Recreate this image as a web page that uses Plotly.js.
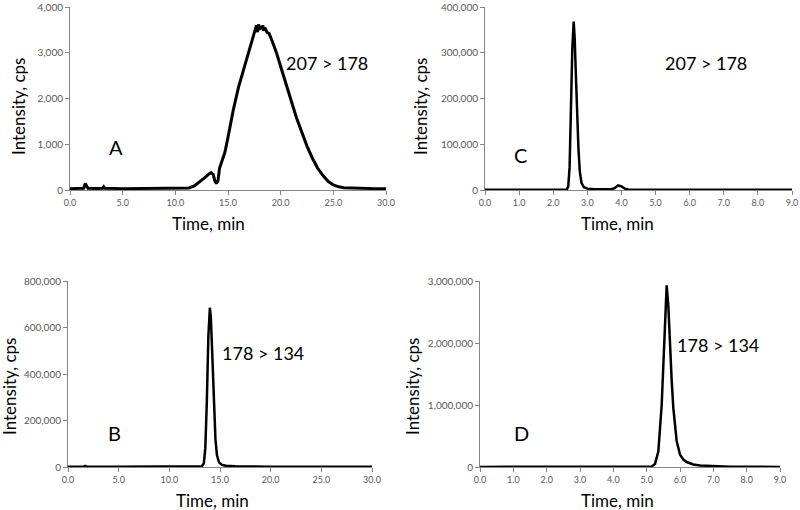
<!DOCTYPE html>
<html>
<head>
<meta charset="utf-8">
<script src="https://cdn.plot.ly/plotly-3.0.1.min.js"></script>
<style>html,body{margin:0;padding:0;background:#fff;}#chart{width:800px;height:510px;}</style>
</head>
<body>
<div id="chart"></div>
<script>
// Panel A: 207 > 178, 0-30 min
const timeA = [0,0.5,1.0,1.3,1.45,1.55,1.7,2.5,3.1,3.2,3.3,5,7,9,10.5,11.3,11.8,12.3,12.8,13.2,13.4,13.6,13.75,13.9,14.05,14.2,14.4,14.7,15.0,15.5,16.0,16.5,17.0,17.4,17.6,17.7,17.8,17.9,18.0,18.1,18.2,18.3,18.4,18.5,18.7,18.9,19.2,19.6,20.0,20.5,21.0,21.5,22.0,22.5,23.0,23.5,24.0,24.5,25.0,25.5,26.0,27,28,29,30];
const intensityA = [30,35,30,40,140,110,40,35,40,70,40,30,30,30,35,45,90,170,270,350,380,340,200,140,200,480,600,820,1150,1750,2250,2650,3050,3350,3500,3600,3450,3620,3500,3580,3520,3600,3480,3550,3450,3420,3250,3000,2700,2300,1950,1580,1250,960,700,480,320,190,110,70,50,40,35,30,30];

// Panel C: 207 > 178, 0-9 min
const timeC = [0,1,2,2.40,2.44,2.48,2.52,2.56,2.60,2.63,2.66,2.70,2.74,2.78,2.83,2.9,3.0,3.2,3.5,3.7,3.8,3.9,4.0,4.1,4.2,4.5,5,6,7,8,9];
const intensityC = [500,500,500,1000,8000,50000,180000,310000,368000,330000,260000,170000,90000,40000,15000,6000,3000,1800,1200,1500,4000,10000,8000,3000,1200,700,500,500,500,500,500];

// Panel B: 178 > 134, 0-30 min
const timeB = [0,1.5,1.7,1.9,5,10,12.8,13.2,13.4,13.55,13.7,13.85,14.0,14.1,14.25,14.4,14.55,14.7,14.9,15.2,15.6,16.5,18,20,25,30];
const intensityB = [1000,1000,5000,1000,1000,1000,1200,3000,15000,80000,280000,560000,685000,640000,470000,270000,120000,50000,20000,9000,5000,3000,2000,1000,1000,1000];

// Panel D: 178 > 134, 0-9 min
const timeD = [0,2,4,5.0,5.15,5.25,5.35,5.45,5.5,5.55,5.60,5.65,5.70,5.75,5.80,5.85,5.9,6.0,6.1,6.2,6.4,6.6,7.0,7.5,8.0,9.0];
const intensityD = [2000,2000,2000,3000,10000,50000,250000,1000000,1700000,2500000,2930000,2600000,1950000,1400000,950000,620000,420000,200000,120000,80000,40000,25000,12000,6000,4000,2000];

const panelLetters = ["A","C","B","D"];
const transitions = ["207 > 178","207 > 178","178 > 134","178 > 134"];
const xTitle = "Time, min";
const yTitle = "Intensity, cps";

const W = 800, H = 510;
const fx = p => p / W;
const fy = p => 1 - p / H;

const traces = [
  {x: timeA, y: intensityA, xaxis: 'x', yaxis: 'y', type: 'scatter', mode: 'lines', line: {color: '#000', width: 3}},
  {x: timeC, y: intensityC, xaxis: 'x2', yaxis: 'y2', type: 'scatter', mode: 'lines', line: {color: '#000', width: 2.5}},
  {x: timeB, y: intensityB, xaxis: 'x3', yaxis: 'y3', type: 'scatter', mode: 'lines', line: {color: '#000', width: 2.5}},
  {x: timeD, y: intensityD, xaxis: 'x4', yaxis: 'y4', type: 'scatter', mode: 'lines', line: {color: '#000', width: 2.5}}
];

const tickFontX = {family: 'Lato, sans-serif', size: 9, color: '#595959'};
const tickFontY = {family: 'Lato, sans-serif', size: 10, color: '#595959'};
function xa(dom, range, dtick, anchor) {
  return {domain: dom, range: range, dtick: dtick, tick0: 0, tickformat: '.1f', anchor: anchor,
    showline: true, linecolor: '#868686', linewidth: 1, ticks: 'outside', ticklen: 4, tickcolor: '#868686',
    showgrid: false, zeroline: false, tickfont: tickFontX, fixedrange: true, ticklabeloverflow: 'allow'};
}
function ya(dom, range, dtick, anchor) {
  return {domain: dom, range: range, dtick: dtick, tick0: 0, tickformat: ',d', anchor: anchor,
    showline: true, linecolor: '#868686', linewidth: 1, ticks: 'outside', ticklen: 4, tickcolor: '#868686',
    showgrid: false, zeroline: false, tickfont: tickFontY, fixedrange: true, ticklabeloverflow: 'allow'};
}

const topDom = [fy(190), fy(7)];
const botDom = [fy(467), fy(281)];

const annFont = {family: 'Lato, sans-serif', size: 18, color: '#000'};
const titleFont = {family: 'Lato, sans-serif', size: 17, color: '#000'};
function ann(text, x, y, font, angle) {
  return {text: text, xref: 'paper', yref: 'paper', x: fx(x), y: fy(y), xanchor: 'center', yanchor: 'middle',
    showarrow: false, font: font, textangle: angle || 0};
}

const letterFont = {family: 'Lato, sans-serif', size: 20, color: '#000'};
const annotations = [
  ann(panelLetters[0], 116, 147, letterFont),
  ann(panelLetters[1], 520, 155, letterFont),
  ann(panelLetters[2], 115, 433, letterFont),
  ann(panelLetters[3], 521, 433, letterFont),
  ann(transitions[0], 327, 63, annFont),
  ann(transitions[1], 706, 63, annFont),
  ann(transitions[2], 263, 353, annFont),
  ann(transitions[3], 718, 345, annFont),
  ann(xTitle, 208, 223, titleFont),
  ann(xTitle, 617, 223, titleFont),
  ann(xTitle, 212, 500, titleFont),
  ann(xTitle, 617, 500, titleFont),
  ann(yTitle, 18, 107, titleFont, -90),
  ann(yTitle, 420, 107, titleFont, -90),
  ann(yTitle, 9, 387, titleFont, -90),
  ann(yTitle, 412, 387, titleFont, -90)
];

const layout = {
  width: W, height: H,
  margin: {l: 0, r: 0, t: 0, b: 0},
  paper_bgcolor: '#fff', plot_bgcolor: 'rgba(0,0,0,0)',
  showlegend: false,
  xaxis: xa([fx(70), fx(386)], [0, 30], 5, 'y'),
  yaxis: ya(topDom, [0, 4000], 1000, 'x'),
  xaxis2: xa([fx(485), fx(792)], [0, 9], 1, 'y2'),
  yaxis2: ya(topDom, [0, 400000], 100000, 'x2'),
  xaxis3: xa([fx(68), fx(372)], [0, 30], 5, 'y3'),
  yaxis3: ya(botDom, [0, 800000], 200000, 'x3'),
  xaxis4: xa([fx(480), fx(780)], [0, 9], 1, 'y4'),
  yaxis4: ya(botDom, [0, 3000000], 1000000, 'x4'),
  annotations: annotations
};

Plotly.newPlot('chart', traces, layout, {staticPlot: true, displayModeBar: false});
</script>
</body>
</html>
